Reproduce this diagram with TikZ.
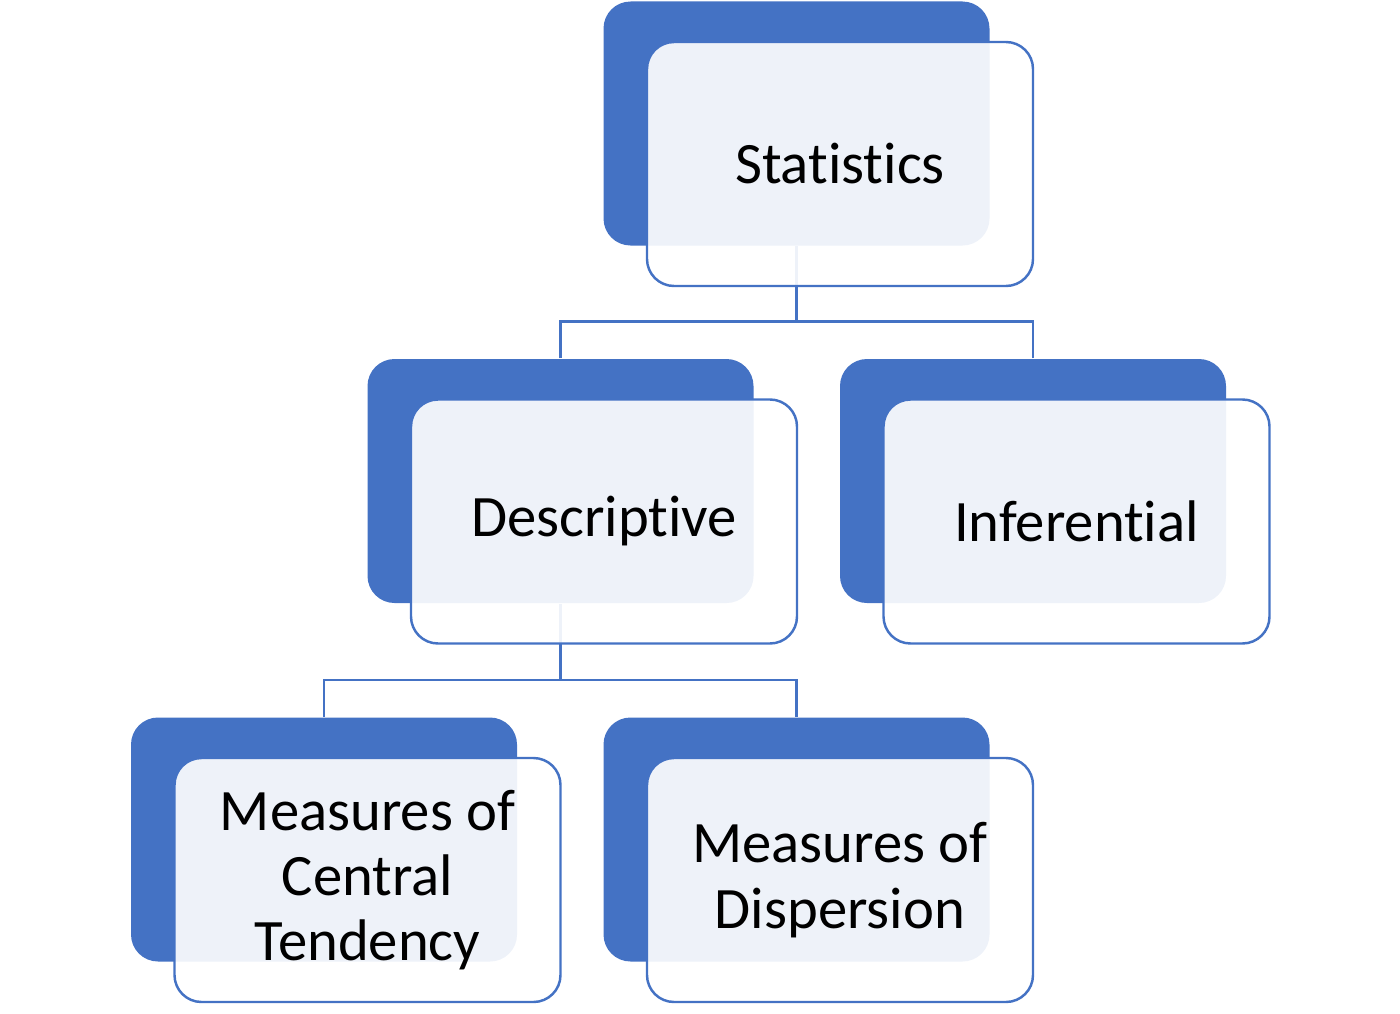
\documentclass[tikz,border=0pt]{standalone}
\usepackage{fontspec}
\setmainfont[Ligatures=NoCommon]{Carlito}
\definecolor{chartblue}{HTML}{4472C4}
\begin{document}
\begin{tikzpicture}[
    back/.style={rectangle, rounded corners=0.27cm, fill=chartblue,
      minimum width=3.86cm, minimum height=2.44cm, inner sep=0pt},
    front/.style={back, fill=white, fill opacity=0.91, text opacity=1,
      draw=chartblue, line width=0.7pt, align=center, text=black,
      font=\fontsize{16.7}{18.6}\selectfont},
    link/.style={draw=chartblue, line width=0.7pt}]
  \useasboundingbox (0,0) rectangle (14,-10.13);

  % Back tiles
  \node[back] (stat)    at (7.965,-1.235) {};
  \node[back] (desc)    at (5.605,-4.81)  {};
  \node[back] (infer)   at (10.33,-4.81)  {};
  \node[back] (central) at (3.24,-8.395)  {};
  \node[back] (disp)    at (7.965,-8.395) {};

  % Connectors
  \draw[link] (desc.north)    -- ++(0,0.37) -| (stat.south);
  \draw[link] (infer.north)   -- ++(0,0.37) -| (stat.south);
  \draw[link] (central.north) -- ++(0,0.37) -| (desc.south);
  \draw[link] (disp.north)    -- ++(0,0.37) -| (desc.south);

  % Front tiles with labels
  \node[front] (statf)    at ([shift={(0.435,-0.405)}]stat.center)    {Statistics};
  \node[front] (descf)    at ([shift={(0.435,-0.405)}]desc.center)    {Descriptive};
  \node[front] (inferf)   at ([shift={(0.435,-0.405)}]infer.center)   {Inferential};
  \node[front] (centralf) at ([shift={(0.435,-0.405)}]central.center) {Measures of\\Central\\Tendency};
  \node[front] (dispf)    at ([shift={(0.435,-0.405)}]disp.center)    {Measures of\\Dispersion};
\end{tikzpicture}
\end{document}
